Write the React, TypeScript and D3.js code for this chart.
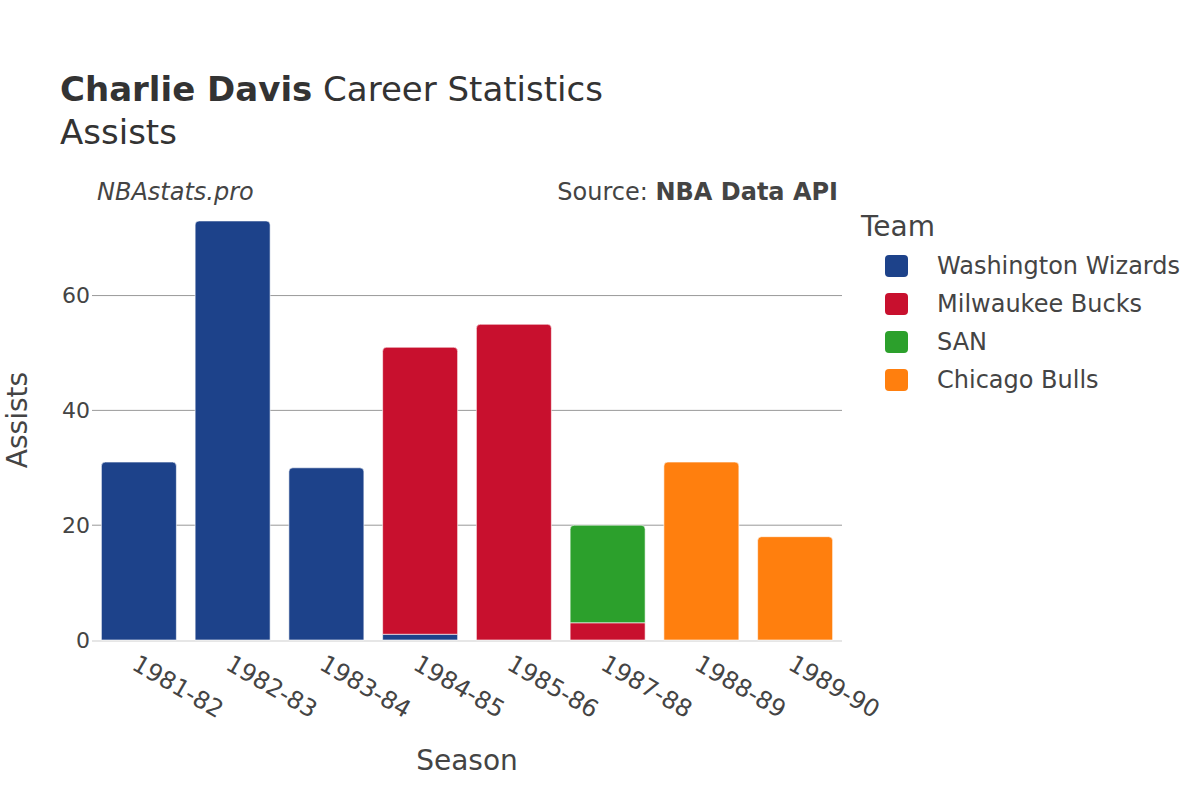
import * as React from "react";
import * as d3 from "d3";

const seasons = ["1981-82", "1982-83", "1983-84", "1984-85", "1985-86", "1987-88", "1988-89", "1989-90"];
const teams = ["Washington Wizards", "Milwaukee Bucks", "SAN", "Chicago Bulls"];
const teamColors = ["#1d428a", "#c8102e", "#2ca02c", "#ff7f0e"];
const wizards = [31, 73, 30, 1, 0, 0, 0, 0];
const bucks = [0, 0, 0, 50, 55, 3, 0, 0];
const san = [0, 0, 0, 0, 0, 17, 0, 0];
const bulls = [0, 0, 0, 0, 0, 0, 31, 18];
const yTicks = [0, 20, 40, 60];

const W = 1200;
const H = 800;
const FONT = "'DejaVu Sans', Verdana, sans-serif";
const INK = "#444";

function barPath(x: number, y0: number, y1: number, w: number, r: number) {
  // y1 is top; round the two top corners only
  const h = y0 - y1;
  const rr = Math.min(r, h, w / 2);
  return `M${x},${y0}V${y1 + rr}Q${x},${y1} ${x + rr},${y1}H${x + w - rr}Q${x + w},${y1} ${x + w},${y1 + rr}V${y0}Z`;
}

export default function App() {
  const series = [wizards, bucks, san, bulls];
  const rows = seasons.map((s, i) => {
    const o: Record<string, number | string> = { season: s };
    teams.forEach((t, k) => (o[t] = series[k][i]));
    return o;
  });
  const stacked = d3.stack<any>().keys(teams)(rows);

  const x = d3.scaleBand<string>().domain(seasons).range([92, 842]).paddingInner(0.2).paddingOuter(0.1);
  const y = d3.scaleLinear().domain([0, 76.65]).range([640, 200]);

  // which team is topmost per season
  const topIdx = seasons.map((_, i) => {
    let t = -1;
    series.forEach((s, k) => {
      if (s[i] > 0) t = k;
    });
    return t;
  });

  return (
    <svg width={W} height={H} style={{ position: "absolute", left: 0, top: 0, background: "#fff" }} fontFamily={FONT}>
      <text x={60} y={101} fontSize={34} fill="#333">
        <tspan fontWeight="bold">Charlie Davis</tspan> Career Statistics
      </text>
      <text x={60} y={144} fontSize={34} fill="#333">Assists</text>
      <text x={97} y={200} fontSize={24} fontStyle="italic" fill={INK}>NBAstats.pro</text>
      <text x={838} y={200} fontSize={24} textAnchor="end" fill={INK}>
        Source: <tspan fontWeight="bold">NBA Data API</tspan>
      </text>

      {yTicks.filter((t) => t > 0).map((t) => (
        <line key={t} x1={92} x2={842} y1={y(t)} y2={y(t)} stroke="#999" strokeWidth={1} />
      ))}
      <line x1={92} x2={842} y1={y(0) + 1} y2={y(0) + 1} stroke="#e6e6e6" strokeWidth={2} />

      {stacked.map((layer, k) => (
        <g key={teams[k]}>
          {layer.map((d, i) => {
            if (d[1] - d[0] <= 0) return null;
            const bx = x(seasons[i])!;
            const y0 = y(d[0]);
            const y1 = y(d[1]);
            const r = topIdx[i] === k ? 4 : 0;
            return (
              <path
                key={i}
                d={barPath(bx, y0, y1, x.bandwidth(), r)}
                fill={teamColors[k]}
                stroke="#fff"
                strokeWidth={0.6}
              />
            );
          })}
        </g>
      ))}

      {yTicks.map((t) => (
        <text key={t} x={90} y={y(t)} dy="0.35em" textAnchor="end" fontSize={22} fill={INK}>{t}</text>
      ))}

      {seasons.map((s) => (
        <text
          key={s}
          transform={`translate(${x(s)! + x.bandwidth() / 2},${654}) rotate(30)`}
          dy="0.7em"
          fontSize={24}
          fill={INK}
        >
          {s}
        </text>
      ))}

      <text transform="translate(27,420) rotate(-90)" textAnchor="middle" fontSize={28} fill={INK}>Assists</text>
      <text x={467} y={770} textAnchor="middle" fontSize={28} fill={INK}>Season</text>

      <text x={861} y={236} fontSize={28} fill={INK}>Team</text>
      {teams.map((t, k) => (
        <g key={t} transform={`translate(0,${266 + k * 38})`}>
          <rect x={885} y={-11} width={23} height={22} rx={4} fill={teamColors[k]} />
          <text x={937} y={0} dy="0.35em" fontSize={24} fill={INK}>{t}</text>
        </g>
      ))}
    </svg>
  );
}
